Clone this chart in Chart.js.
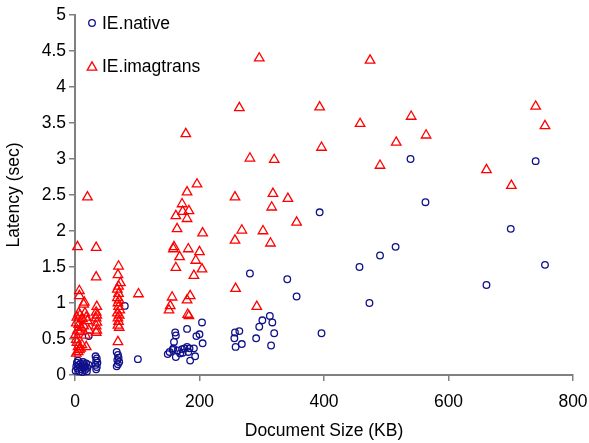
<!DOCTYPE html>
<html><head><meta charset="utf-8">
<script src="https://cdn.jsdelivr.net/npm/chart.js@4/dist/chart.umd.min.js"></script>
<style>html,body{margin:0;padding:0;background:#fff;} #wrap{width:589px;height:443px;position:relative;}</style>
</head><body><div id="wrap"><canvas id="c"></canvas></div>
<script>
// ---- data ----
const seriesNames = ['IE.native', 'IE.imagtrans'];

const nativeX = [1,2,3,4,5,6,7,8,9,10,11,12,13,14,15,16,17,18,19,20,22,22,
  33,35,34,36,33,35,34,
  67,69,70,68,71,69,67,80,
  101,
  204,180,161,162,200,195,159,205,158,152,149,172,180,184,191,162,173,182,185,193,165,176,157,169,
  257,264,256,268,258,281,313,301,317,296,320,291,315,
  341,356,396,393,457,473,490,515,539,563,661,700,740,755];
const nativeY = [0.06,0.12,0.17,0.09,0.20,0.14,0.05,0.11,0.16,0.08,0.13,0.04,0.18,0.10,0.14,0.07,0.12,0.16,0.05,0.10,0.14,0.54,
  0.26,0.23,0.20,0.17,0.14,0.11,0.08,
  0.32,0.28,0.24,0.21,0.18,0.15,0.12,0.96,
  0.22,
  0.73,0.64,0.59,0.55,0.565,0.54,0.46,0.44,0.37,0.32,0.29,0.36,0.39,0.37,0.37,0.25,0.31,0.32,0.20,0.26,0.34,0.37,0.35,0.30,
  0.59,0.61,0.51,0.43,0.39,1.41,0.82,0.76,0.73,0.67,0.58,0.51,0.41,
  1.33,1.09,0.58,2.26,1.50,1.00,1.66,1.78,3.00,2.40,1.25,2.03,2.97,1.53];

const imagX = [4,20,7,7,15,14,6,3,8,12,16,18,20,2,6,10,14,4,8,22,2,5,7,9,5,18,2,11,1,17,3,
  34,34,35,34,35,34,35,34,35,34,
  70,69,73,68,70,70,68,71,69,70,72,68,71,69,70,69,71,69,
  102,
  196,180,172,162,173,183,180,164,205,159,158,182,200,168,194,162,204,191,156,185,180,153,151,181,183,178,
  296,264,281,320,257,318,342,316,356,268,302,314,257,258,292,
  393,396,458,474,490,516,540,564,661,701,740,755];
const imagY = [1.78,2.47,1.17,1.10,1.01,0.98,0.86,0.80,0.83,0.78,0.86,0.80,0.75,0.72,0.70,0.66,0.68,0.62,0.60,0.62,0.49,0.39,0.35,0.37,0.32,0.39,0.30,0.42,0.56,0.55,0.45,
  1.77,1.36,0.95,0.87,0.83,0.79,0.73,0.68,0.62,0.59,
  1.51,1.39,1.28,1.19,1.23,1.13,1.07,1.04,1.00,0.95,0.90,0.86,0.83,0.79,0.74,0.69,0.66,0.46,
  1.125,
  2.65,2.54,2.375,2.21,2.27,2.28,2.17,2.03,1.97,1.78,1.75,1.75,1.71,1.64,1.59,1.49,1.47,1.38,1.08,1.10,1.04,0.96,0.90,0.84,0.82,3.35,
  4.40,3.71,3.01,2.99,2.47,2.52,2.45,2.33,2.12,2.01,2.00,1.83,1.87,1.20,0.95,
  3.72,3.16,3.49,4.37,2.91,3.23,3.59,3.33,2.85,2.63,3.73,3.46];

const xTickValues = [0, 200, 400, 600, 800];
const xTickLabels = ['0', '200', '400', '600', '800'];
const yTickValues = [0, 0.5, 1, 1.5, 2, 2.5, 3, 3.5, 4, 4.5, 5];
const yTickLabels = ['0', '0.5', '1', '1.5', '2', '2.5', '3', '3.5', '4', '4.5', '5'];
const xTitle = 'Document Size (KB)';
const yTitle = 'Latency (sec)';

// ---- build ----
const pts = (xs, ys) => xs.map((x, i) => ({x: x, y: ys[i]}));
const FONT = {family: '"Liberation Sans", Arial, Helvetica, sans-serif', size: 17.5};
const NAVY = '#10108a';
const RED = '#ff0000';
const AXIS = '#808080';

const insideLegend = {
  id: 'insideLegend',
  afterDraw(chart) {
    const ctx = chart.ctx, ca = chart.chartArea;
    ctx.save();
    ctx.font = FONT.size + 'px ' + FONT.family;
    ctx.fillStyle = '#000';
    ctx.textBaseline = 'middle';
    ctx.textAlign = 'left';
    const mx = ca.left + 17;
    // circle marker
    let cy = ca.top + 8;
    ctx.strokeStyle = NAVY; ctx.lineWidth = 1.3;
    ctx.beginPath(); ctx.arc(mx, cy, 3.3, 0, Math.PI * 2); ctx.stroke();
    ctx.fillText(chart.data.datasets[0].label, ca.left + 27, cy + 1);
    // triangle marker
    cy = ca.top + 52.4;
    const r = 5.5;
    ctx.strokeStyle = RED; ctx.lineWidth = 1.3;
    ctx.beginPath();
    let rad = 0;
    ctx.moveTo(mx + Math.sin(rad) * r, cy - Math.cos(rad) * r);
    rad += 2 * Math.PI / 3;
    ctx.lineTo(mx + Math.sin(rad) * r, cy - Math.cos(rad) * r);
    rad += 2 * Math.PI / 3;
    ctx.lineTo(mx + Math.sin(rad) * r, cy - Math.cos(rad) * r);
    ctx.closePath(); ctx.stroke();
    ctx.fillText(chart.data.datasets[1].label, ca.left + 27, cy - 0.5);
    ctx.restore();
  }
};

new Chart(document.getElementById('c'), {
  type: 'scatter',
  data: {
    datasets: [
      {label: seriesNames[0], data: pts(nativeX, nativeY), pointStyle: 'circle', pointRadius: 3.3,
       borderColor: NAVY, backgroundColor: 'rgba(0,0,0,0)', pointBorderWidth: 1.3, order: 1, clip: false},
      {label: seriesNames[1], data: pts(imagX, imagY), pointStyle: 'triangle', pointRadius: 5.5,
       borderColor: RED, backgroundColor: 'rgba(0,0,0,0)', pointBorderWidth: 1.3, order: 0, clip: false}
    ]
  },
  options: {
    responsive: true, maintainAspectRatio: false, animation: false,
    layout: {padding: {left: 0, top: 15, right: 16, bottom: 0}},
    plugins: {legend: {display: false}, tooltip: {enabled: false}},
    scales: {
      x: {
        type: 'linear', min: 0, max: 800,
        afterBuildTicks: s => { s.ticks = xTickValues.map(v => ({value: v})); },
        afterFit: s => { s.height = 68; s.paddingLeft = 0; s.paddingRight = 0; },
        grid: {drawOnChartArea: false, drawTicks: true, tickLength: 6, color: AXIS, lineWidth: 1.5},
        border: {display: true, color: AXIS, width: 2},
        ticks: {color: '#000', font: FONT, padding: 11, maxRotation: 0,
                callback: v => xTickLabels[xTickValues.indexOf(v)]},
        title: {display: true, text: xTitle, color: '#000', font: FONT, padding: {top: 0, bottom: 1}}
      },
      y: {
        type: 'linear', min: 0, max: 5,
        afterBuildTicks: s => { s.ticks = yTickValues.map(v => ({value: v})); },
        afterFit: s => { s.width = 75; s.paddingTop = 0; s.paddingBottom = 0; },
        grid: {drawOnChartArea: false, drawTicks: true, tickLength: 6, color: AXIS, lineWidth: 1.5},
        border: {display: true, color: AXIS, width: 2},
        ticks: {color: '#000', font: FONT, padding: 3,
                callback: v => yTickLabels[yTickValues.indexOf(v)]},
        title: {display: true, text: yTitle, color: '#000', font: FONT, padding: {top: 4, bottom: 0}}
      }
    }
  },
  plugins: [insideLegend]
});
</script>
</body></html>
